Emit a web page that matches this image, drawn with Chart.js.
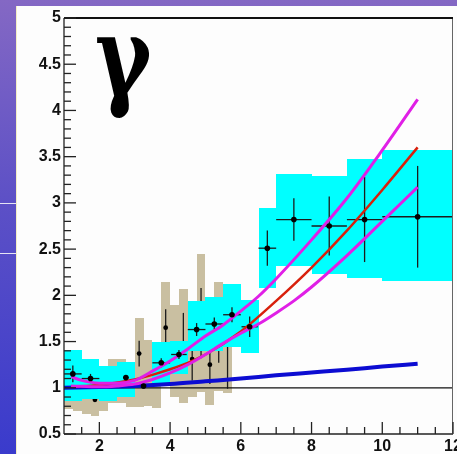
<!DOCTYPE html>
<html>
<head>
<meta charset="utf-8">
<script src="https://cdn.jsdelivr.net/npm/chart.js@4.4.0/dist/chart.umd.min.js"></script>
<style>
  html, body { margin: 0; padding: 0; }
  body {
    width: 457px; height: 454px; overflow: hidden; position: relative;
    background: linear-gradient(to bottom, #8468c4 0%, #5c50c6 45%, #3a3bcc 100%);
  }
  #panel {
    position: absolute; left: 16px; top: 6px; right: 0; bottom: 0;
    background: #fdfdfd; border-left: 1px solid #f4eec4;
  }
  .rule { position: absolute; left: 0; width: 16px; height: 1px; background: #e6e4f4; }
  #gamma {
    position: absolute; left: 95px; top: 2px;
    font: bold 110px "DejaVu Serif", serif;
    line-height: 1; color: #000;
    transform: scaleX(0.78); transform-origin: left top;
  }
  canvas { position: absolute; left: 0; top: 0; }
</style>
</head>
<body>
<div id="panel"></div>
<div class="rule" style="top:203px"></div>
<div class="rule" style="top:253px"></div>
<div id="gamma">γ</div>
<canvas id="c" width="457" height="454"></canvas>
<script>
// Axis tick labels
const xTicks = [2, 4, 6, 8, 10, 12];
const yTicks = [0.5, 1, 1.5, 2, 2.5, 3, 3.5, 4, 4.5, 5];

// Measured ratios, set A (bin-centred points, cyan systematic band)
const aX    = [1.25, 1.75, 2.75, 3.25, 3.75, 4.25, 4.75, 5.25, 5.75, 6.25, 6.75, 7.5, 8.5, 9.5, 11];
const aY    = [1.15, 1.10, 1.11, 1.02, 1.27, 1.36, 1.63, 1.69, 1.79, 1.66, 2.51, 2.82, 2.75, 2.82, 2.85];
const aErrX = [0.25, 0.25, 0.08, 0.25, 0.25, 0.22, 0.25, 0.25, 0.25, 0.23, 0.25, 0.5, 0.5, 0.5, 1.0];
const aErrY = [0.09, 0.05, 0.02, 0.03, 0.05, 0.05, 0.07, 0.07, 0.08, 0.11, 0.19, 0.23, 0.32, 0.46, 0.55];

// Systematic band of set A: bin edges and band limits
const cyanLo  = [1.0, 1.5, 2.0, 2.5, 3.5, 4.0, 4.5, 5.0, 5.5, 6.0, 6.5, 7, 8, 9, 10];
const cyanHi  = [1.5, 2.0, 2.5, 3.0, 4.0, 4.5, 5.0, 5.5, 6.0, 6.5, 7, 8, 9, 10, 12];
const cyanBot = [0.86, 0.88, 0.86, 0.90, 1.05, 1.15, 1.40, 1.40, 1.44, 1.38, 2.08, 2.32, 2.23, 2.19, 2.15];
const cyanTop = [1.41, 1.31, 1.24, 1.28, 1.49, 1.51, 1.94, 1.98, 2.12, 1.95, 2.95, 3.31, 3.29, 3.47, 3.57];

// Measured ratios, set B (finer bins, tan systematic boxes)
const bX   = [1.875, 3.125, 3.875, 4.375, 4.625, 4.875, 5.125, 5.375, 5.625];
const bY   = [0.87, 1.37, 1.65, 1.48, 1.31, 1.70, 1.25, 1.55, 1.49];
const bErr = [0.0, 0.14, 0.20, 0.33, 0.23, 0.38, 0.21, 0.28, 0.50];

const tanEdges = [1.0, 1.25, 1.5, 1.75, 2.0, 2.25, 2.5, 2.75, 3.0, 3.25, 3.5, 3.75, 4.0, 4.25, 4.5, 4.75, 5.0, 5.25, 5.5, 5.75];
const tanBot   = [0.77, 0.75, 0.72, 0.70, 0.75, 0.83, 0.84, 0.79, 0.79, 0.80, 0.78, 1.15, 0.90, 0.83, 0.90, 0.95, 0.81, 0.96, 0.94];
const tanTop   = [1.30, 1.30, 1.25, 1.20, 1.20, 1.31, 1.31, 1.28, 1.76, 1.52, 1.40, 2.14, 1.90, 2.07, 1.72, 2.45, 1.69, 2.14, 2.04];

// Model curves
const blueX = [1, 2, 3, 4, 5, 6, 7, 8, 9, 10, 11];
const blueY = [1.0, 1.008, 1.02, 1.04, 1.07, 1.10, 1.135, 1.165, 1.195, 1.23, 1.26];

const redX = [1.2, 2, 3, 3.5, 4, 4.5, 5, 6, 7, 8, 9, 10, 11];
const redY = [1.01, 1.03, 1.09, 1.14, 1.20, 1.27, 1.36, 1.61, 1.94, 2.30, 2.70, 3.14, 3.60];

const upX = [1.2, 1.5, 2, 2.5, 3, 3.5, 4, 4.5, 5, 5.5, 6, 6.5, 7, 8, 9, 10, 11];
const upY = [1.12, 1.08, 1.05, 1.05, 1.08, 1.18, 1.29, 1.42, 1.56, 1.68, 1.83, 1.99, 2.18, 2.60, 3.05, 3.57, 4.12];

const loX = [1.2, 2, 2.5, 3, 3.5, 4, 4.5, 5, 5.5, 6, 6.5, 7, 7.5, 8, 9, 10, 11];
const loY = [1.02, 1.01, 1.02, 1.04, 1.09, 1.16, 1.25, 1.36, 1.48, 1.59, 1.69, 1.81, 1.94, 2.09, 2.43, 2.80, 3.17];

const CYAN = '#00ffff';
const TAN = '#c9bfa1';
const BAR = '#1c1c1c';

const pts = (xs, ys) => xs.map((x, i) => ({ x, y: ys[i] }));

function fillBox(ctx, sx, sy, x0, x1, y0, y1) {
  const l = Math.round(sx.getPixelForValue(x0));
  const r = Math.round(sx.getPixelForValue(x1));
  const t = Math.round(sy.getPixelForValue(y1));
  const b = Math.round(sy.getPixelForValue(y0));
  ctx.fillRect(l, t, r - l, b - t);
}

function line(ctx, x0, y0, x1, y1) {
  ctx.beginPath(); ctx.moveTo(x0, y0); ctx.lineTo(x1, y1); ctx.stroke();
}

const layers = {
  id: 'layers',
  beforeDatasetsDraw(chart) {
    const { ctx, chartArea: a, scales: { x, y } } = chart;
    ctx.save();
    ctx.beginPath(); ctx.rect(a.left, a.top, a.right - a.left, a.bottom - a.top); ctx.clip();
    ctx.fillStyle = TAN;
    for (let i = 0; i < tanBot.length; i++) {
      fillBox(ctx, x, y, tanEdges[i], tanEdges[i + 1], tanBot[i], tanTop[i]);
    }
    // error bars of set B
    ctx.strokeStyle = BAR; ctx.lineWidth = 1.3;
    bX.forEach((v, i) => {
      const px = x.getPixelForValue(v);
      line(ctx, px, y.getPixelForValue(bY[i] - bErr[i]), px, y.getPixelForValue(bY[i] + bErr[i]));
    });
    ctx.restore();
  },
  afterDatasetDraw(chart, args) {
    if (chart.data.datasets[args.index].label !== 'B') return;
    const { ctx, chartArea: a, scales: { x, y } } = chart;
    ctx.save();
    ctx.beginPath(); ctx.rect(a.left, a.top, a.right - a.left, a.bottom - a.top); ctx.clip();
    ctx.fillStyle = CYAN;
    for (let i = 0; i < cyanLo.length; i++) {
      fillBox(ctx, x, y, cyanLo[i], cyanHi[i], cyanBot[i], cyanTop[i]);
    }
    // unity reference line
    ctx.strokeStyle = '#111'; ctx.lineWidth = 1.3;
    const y1 = y.getPixelForValue(1);
    line(ctx, a.left, y1, a.right, y1);
    // error bars of set A
    ctx.strokeStyle = BAR; ctx.lineWidth = 1.3;
    aX.forEach((v, i) => {
      const px = x.getPixelForValue(v), py = y.getPixelForValue(aY[i]);
      line(ctx, x.getPixelForValue(v - aErrX[i]), py, x.getPixelForValue(v + aErrX[i]), py);
      line(ctx, px, y.getPixelForValue(aY[i] - aErrY[i]), px, y.getPixelForValue(aY[i] + aErrY[i]));
    });
    ctx.restore();
  },
  afterDraw(chart) {
    const { ctx, chartArea: a, scales: { x, y } } = chart;
    ctx.save();
    ctx.strokeStyle = '#222'; ctx.lineWidth = 1.3;
    // axes and frame
    line(ctx, a.left, a.top, a.left, a.bottom);
    line(ctx, a.left, a.bottom, a.right, a.bottom);
    ctx.strokeStyle = '#666'; ctx.lineWidth = 1;
    line(ctx, a.right - 0.5, a.top, a.right - 0.5, a.bottom);
    ctx.strokeStyle = '#111'; ctx.lineWidth = 2.2;
    line(ctx, a.left, a.top, a.right, a.top);
    // inward tick marks
    ctx.strokeStyle = '#222'; ctx.lineWidth = 1.3;
    for (let i = 5; i <= 50; i++) {
      const py = y.getPixelForValue(i / 10);
      const len = i % 5 === 0 ? 12 : 7;
      line(ctx, a.left, py, a.left + len, py);
    }
    for (let i = 3; i <= 24; i++) {
      const px = x.getPixelForValue(i / 2);
      const len = i % 4 === 0 ? 12 : 7;
      line(ctx, px, a.bottom, px, a.bottom - len);
    }
    ctx.restore();
  }
};

const tickFont = { family: '"Liberation Sans Narrow", "Liberation Sans", Arial, sans-serif', weight: 'bold', size: 16 };

new Chart(document.getElementById('c'), {
  type: 'line',
  data: {
    datasets: [
      { label: 'A', type: 'scatter', data: pts(aX, aY), order: 1,
        pointRadius: 2.8, pointBackgroundColor: '#000', pointBorderWidth: 0, showLine: false },
      { label: 'upper', data: pts(upX, upY), order: 2, borderColor: '#e01fe6', borderWidth: 3,
        pointRadius: 0, cubicInterpolationMode: 'monotone', fill: false },
      { label: 'lower', data: pts(loX, loY), order: 2, borderColor: '#e01fe6', borderWidth: 3,
        pointRadius: 0, cubicInterpolationMode: 'monotone', fill: false },
      { label: 'central', data: pts(redX, redY), order: 2, borderColor: '#d8200c', borderWidth: 2.5,
        pointRadius: 0, cubicInterpolationMode: 'monotone', fill: false },
      { label: 'baseline', data: pts(blueX, blueY), order: 2, borderColor: '#0c0cd2', borderWidth: 4,
        pointRadius: 0, cubicInterpolationMode: 'monotone', fill: false },
      { label: 'B', type: 'scatter', data: pts(bX, bY), order: 3,
        pointRadius: 2.4, pointBackgroundColor: '#000', pointBorderWidth: 0, showLine: false }
    ]
  },
  options: {
    responsive: false,
    animation: false,
    devicePixelRatio: 1,
    layout: { padding: { top: 18, right: 2, left: 0, bottom: 0 } },
    plugins: { legend: { display: false }, tooltip: { enabled: false } },
    scales: {
      x: {
        type: 'linear', min: 1, max: 12,
        grid: { display: false, drawTicks: false },
        border: { display: false },
        ticks: { font: tickFont, color: '#111', padding: 3, maxRotation: 0, autoSkip: false,
                 callback: v => String(v) },
        afterBuildTicks: s => { s.ticks = xTicks.map(v => ({ value: v })); },
        afterFit: s => { s.height = 20; s.paddingLeft = 0; s.paddingRight = 0; }
      },
      y: {
        type: 'linear', min: 0.5, max: 5,
        grid: { display: false, drawTicks: false },
        border: { display: false },
        ticks: { font: tickFont, color: '#111', padding: 3, autoSkip: false,
                 callback: v => String(v) },
        afterBuildTicks: s => { s.ticks = yTicks.map(v => ({ value: v })); },
        afterFit: s => { s.width = 64; }
      }
    }
  },
  plugins: [layers]
});
</script>
</body>
</html>
